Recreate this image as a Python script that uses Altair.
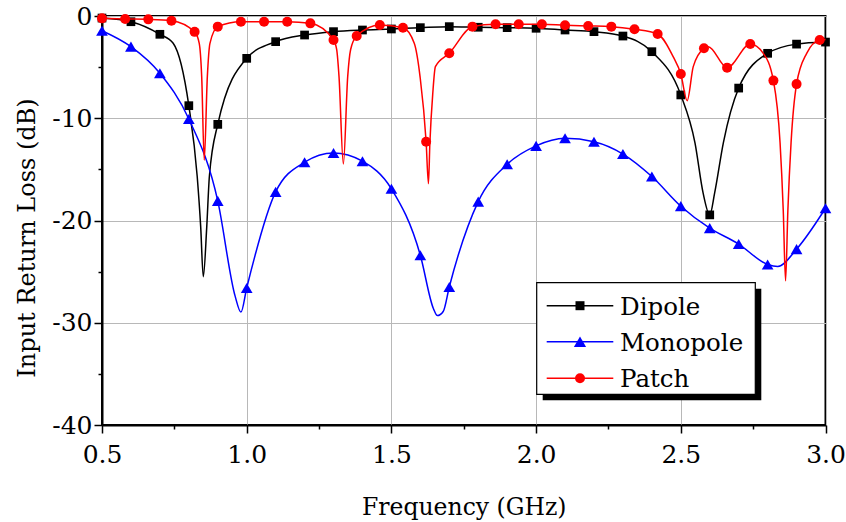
import altair as alt
import pandas as pd

FONT = "DejaVu Serif"

series_names = ["Dipole", "Monopole", "Patch"]
series_colors = ["#000000", "#0000ff", "#ff0000"]
series_shapes = ["square", "triangle-up", "circle"]
marker_sizes = [76, 137, 100]

# ---- Dipole (markers every 0.1 GHz) ----
dipole_f = [0.5, 0.6, 0.7, 0.8, 0.9, 1.0, 1.1, 1.2, 1.3, 1.4, 1.5, 1.6, 1.7,
            1.8, 1.9, 2.0, 2.1, 2.2, 2.3, 2.4, 2.5, 2.6, 2.7, 2.8, 2.9, 3.0]
dipole_db = [-0.2, -0.56, -1.79, -8.77, -10.6, -4.14, -2.51, -1.86, -1.53, -1.37,
             -1.27, -1.14, -1.04, -1.1, -1.14, -1.2, -1.37, -1.53, -1.96, -3.49,
             -7.72, -19.45, -7.05, -3.65, -2.75, -2.55]
dipole_extra_f = [0.746, 0.829, 0.841, 0.850, 0.862, 0.871, 2.549, 2.577, 2.617, 2.647]
dipole_extra_db = [-2.67, -15.7, -20.6, -25.5, -20.6, -15.7, -12.4, -17.3, -17.3, -12.4]

# ---- Monopole (markers every 0.1 GHz) ----
mono_f = [0.5, 0.6, 0.7, 0.8, 0.9, 1.0, 1.1, 1.2, 1.3, 1.4, 1.5, 1.6, 1.7,
          1.8, 1.9, 2.0, 2.1, 2.2, 2.3, 2.4, 2.5, 2.6, 2.7, 2.8, 2.9, 3.0]
mono_db = [-1.44, -3.0, -5.6, -10.07, -18.08, -26.6, -17.2, -14.3, -13.4, -14.2,
           -16.9, -23.4, -26.5, -18.15, -14.5, -12.7, -11.96, -12.3, -13.5, -15.7,
           -18.6, -20.75, -22.3, -24.3, -22.8, -18.8]
mono_extra_f = [0.96, 0.98, 1.645, 1.659, 1.679, 2.835]
mono_extra_db = [-27.4, -28.96, -28.6, -29.3, -28.9, -24.5]

# ---- Patch (markers every 0.08 GHz) ----
patch_f = [0.50, 0.58, 0.66, 0.74, 0.82, 0.90, 0.98, 1.06, 1.14, 1.22, 1.30, 1.38,
           1.46, 1.54, 1.62, 1.70, 1.78, 1.86, 1.94, 2.02, 2.10, 2.18, 2.26, 2.34,
           2.42, 2.50, 2.58, 2.66, 2.74, 2.82, 2.90, 2.98]
patch_db = [-0.23, -0.29, -0.33, -0.46, -1.55, -1.04, -0.56, -0.56, -0.56, -0.72,
            -2.35, -1.96, -0.88, -1.15, -12.3, -3.65, -1.04, -0.81, -0.81, -0.81,
            -0.91, -0.97, -1.04, -1.30, -1.76, -5.67, -3.16, -5.05, -2.74, -6.32,
            -6.66, -2.35]
patch_extra_f = [0.836, 0.8445, 0.8533, 0.864, 0.873,
                 1.311, 1.319, 1.334, 1.349, 1.359,
                 1.579, 1.599, 1.628, 1.633, 1.643, 1.652,
                 2.474, 2.522, 2.543, 2.595,
                 2.785, 2.843, 2.854, 2.862, 2.870, 2.881, 2.935, 3.0]
patch_extra_db = [-2.67, -5.93, -14.1, -5.93, -2.67,
                  -3.3, -5.93, -14.47, -5.93, -3.3,
                  -2.67, -5.93, -16.4, -12.4, -7.56, -4.95,
                  -4.0, -8.28, -4.95, -3.0,
                  -3.65, -12.4, -19.0, -25.9, -19.0, -12.4, -3.65, -2.3]

x_tick_values = [0.5, 0.75, 1.0, 1.25, 1.5, 1.75, 2.0, 2.25, 2.5, 2.75, 3.0]
y_tick_values = [-40, -35, -30, -25, -20, -15, -10, -5, 0]

markers = [(dipole_f, dipole_db), (mono_f, mono_db), (patch_f, patch_db)]
extras = [(dipole_extra_f, dipole_extra_db), (mono_extra_f, mono_extra_db),
          (patch_extra_f, patch_extra_db)]

x_major = "(datum.value * 4) % 2 === 0"
y_major = "datum.value % 10 === 0"

x_axis = alt.Axis(
    values=x_tick_values,
    labelExpr=f"{x_major} ? format(datum.value, '.1f') : ''",
    labelFont=FONT, labelFontSize=25, labelColor="black", labelPadding=9,
    labelFlush=False, labelOverlap=False,
    title="Frequency (GHz)", titleFont=FONT, titleFontSize=23.5,
    titleFontWeight="normal", titleColor="black",
    titleBaseline="alphabetic", titleY=89,
    tickSize={"condition": {"test": x_major, "value": 8}, "value": 4},
    tickWidth=1.5, tickColor="black",
    domainColor="black", domainWidth=2,
    grid=True, gridColor="#b8b8b8", gridWidth=1,
    gridOpacity={"condition": {"test": x_major, "value": 1}, "value": 0},
)
y_axis = alt.Axis(
    values=y_tick_values,
    labelExpr=f"{y_major} ? '' + datum.value : ''",
    labelFont=FONT, labelFontSize=25, labelColor="black", labelPadding=2,
    labelFlush=False, labelOverlap=False,
    title="Input Return Loss (dB)", titleFont=FONT, titleFontSize=24,
    titleFontWeight="normal", titleColor="black",
    titleAngle=270, titleAlign="center", titleBaseline="alphabetic",
    titleX=-68, titleY=221.5,
    tickSize={"condition": {"test": y_major, "value": 8}, "value": 4},
    tickWidth=1.5, tickColor="black",
    domainColor="black", domainWidth=2,
    grid=True, gridColor="#b8b8b8", gridWidth=1,
    gridOpacity={"condition": {"test": y_major, "value": 1}, "value": 0},
)

X = alt.X("f:Q", scale=alt.Scale(domain=[0.5, 3.0], nice=False, zero=False), axis=x_axis)
Y = alt.Y("db:Q", scale=alt.Scale(domain=[-40, 0], nice=False, zero=False), axis=y_axis)

layers = []
for name, color, shape, size, (mf, mdb), (ef, edb) in zip(
        series_names, series_colors, series_shapes, marker_sizes, markers, extras):
    curve = pd.DataFrame({"f": list(mf) + list(ef), "db": list(mdb) + list(edb)})
    curve = curve.sort_values("f").reset_index(drop=True)
    pts = pd.DataFrame({"f": mf, "db": mdb})
    layers.append(
        alt.Chart(curve).mark_line(interpolate="monotone", color=color, strokeWidth=1.5)
        .encode(x=X, y=Y, order=alt.Order("f:Q"))
    )
    layers.append(
        alt.Chart(pts).mark_point(filled=True, shape=shape, size=size, color=color, opacity=1)
        .encode(x=X, y=Y)
    )

# ---- legend box with drop shadow ----
one = pd.DataFrame({"k": [0]})
layers.append(
    alt.Chart(one).mark_rect(color="black")
    .encode(x=alt.value(440.7), x2=alt.value(659.3), y=alt.value(272.7), y2=alt.value(384.3))
)
layers.append(
    alt.Chart(one).mark_rect(fill="white", stroke="black", strokeWidth=1.2)
    .encode(x=alt.value(434.7), x2=alt.value(653.3), y=alt.value(266.7), y2=alt.value(378.3))
)
row_y = [289.7, 325.7, 362.3]
legend_marker_sizes = [81, 150, 100]
for name, color, shape, size, ry in zip(series_names, series_colors, series_shapes,
                                        legend_marker_sizes, row_y):
    d = pd.DataFrame({"name": [name]})
    layers.append(
        alt.Chart(d).mark_rule(color=color, strokeWidth=1.5)
        .encode(x=alt.value(444.7), x2=alt.value(511.3), y=alt.value(ry))
    )
    layers.append(
        alt.Chart(d).mark_point(filled=True, shape=shape, size=size, color=color, opacity=1)
        .encode(x=alt.value(478), y=alt.value(ry))
    )
    layers.append(
        alt.Chart(d).mark_text(align="left", baseline="alphabetic", font=FONT,
                               fontSize=24.5, color="black")
        .encode(x=alt.value(518), y=alt.value(ry + 9), text="name:N")
    )

chart = alt.layer(*layers).properties(
    width=723.5, height=409,
    autosize=alt.AutoSizeParams(type="none"),
    padding={"left": 102, "top": 16, "right": 20, "bottom": 97},
    background="white",
).configure_view(stroke="black", strokeWidth=2)

chart.save("out.html", embed_options={"renderer": "svg", "actions": False})
